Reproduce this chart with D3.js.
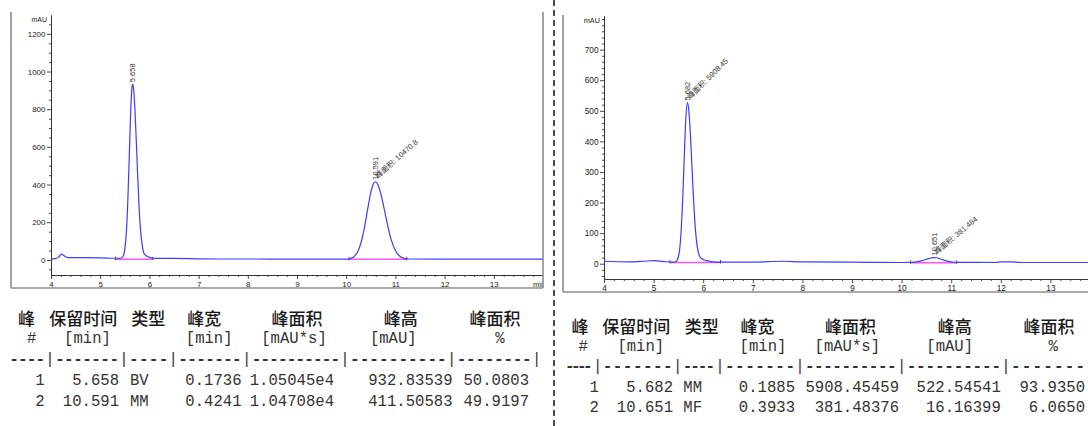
<!DOCTYPE html>
<html><head><meta charset="utf-8">
<script src="https://cdn.jsdelivr.net/npm/d3@7"></script>
<style>body{margin:0;background:#fff;}svg{display:block;}</style>
</head><body><svg id="c" width="1088" height="426"></svg>
<script>
// ---------------- DATA ----------------
const xTickLabels = [4,5,6,7,8,9,10,11,12,13];
const leftYTicks = [0,200,400,600,800,1000,1200];
const rightYTicks = [0,100,200,300,400,500,600,700];

// chromatogram 1 (time min, mAU)
const leftTrace = [[4.0,6],[4.1,7],[4.16,16],[4.21,31],[4.26,24],[4.32,14],[4.4,12],[4.6,12],[5.0,11],[5.3,9],[5.42,9],[5.46,17],[5.50,56],[5.53,141],[5.56,304],[5.59,543],[5.62,788],[5.64,898],[5.658,933],[5.68,902],[5.70,827],[5.73,654],[5.76,458],[5.79,285],[5.82,158],[5.86,68],[5.90,30],[5.95,20],[6.00,14],[6.07,9],[6.15,8],[6.5,8],[7.0,6],[7.5,5],[8.0,5],[9.0,4],[10.0,4],[10.06,4],[10.1,9],[10.15,16],[10.2,29],[10.25,52],[10.3,91],[10.35,145],[10.4,214],[10.45,289],[10.5,357],[10.55,403],[10.591,415],[10.65,396],[10.7,355],[10.75,299],[10.8,235],[10.85,174],[10.9,121],[10.95,80],[11.0,50],[11.05,30],[11.1,18],[11.15,11],[11.2,7],[11.3,5],[12.0,4],[13.0,4],[14.0,4]];
// chromatogram 2
const rightTrace = [[4.0,8],[4.5,6],[4.8,8],[5.0,10],[5.2,7],[5.4,5],[5.45,7],[5.50,23],[5.53,54],[5.56,119],[5.59,225],[5.62,358],[5.65,475],[5.682,527],[5.71,502],[5.74,429],[5.77,329],[5.80,226],[5.83,140],[5.86,82],[5.90,38],[5.95,19],[6.00,14],[6.07,10],[6.15,7],[6.35,5],[7.0,5],[7.6,8],[8.0,6],[9.0,5],[10.0,4],[10.2,4.5],[10.3,5.8],[10.4,9.2],[10.5,14.6],[10.6,19.2],[10.651,20.2],[10.7,19.4],[10.8,14.7],[10.9,9.3],[11.0,5.8],[11.1,4.6],[11.2,4.2],[11.9,4],[12.0,6],[12.2,6],[12.4,4],[13.0,4],[14.0,4]];

// integration baselines [tStart, vStart, tEnd, vEnd]
const leftBaselines = [[5.31,4,6.07,4],[10.06,3,11.23,3]];
const rightBaselines = [[5.33,4,6.35,4],[10.18,3,11.11,3]];

// peak annotations
const leftPeakTimes = [5.658, 10.591];
const leftPeakApex = [933, 415];
const leftPeakAreaLabels = ["", "峰面积: 10470.8"];
const rightPeakTimes = [5.682, 10.651];
const rightPeakApex = [527, 20.2];
const rightPeakAreaLabels = ["峰面积: 5908.45", "峰面积: 381.484"];

// tables
const tableHead1 = ["峰","保留时间","类型","峰宽","峰面积","峰高","峰面积"];
const tableHead2 = ["#","[min]","","[min]","[mAU*s]","[mAU]","%"];
const leftRows = [
  ["1","5.658","BV","0.1736","1.05045e4","932.83539","50.0803"],
  ["2","10.591","MM","0.4241","1.04708e4","411.50583","49.9197"]
];
const rightRows = [
  ["1","5.682","MM","0.1885","5908.45459","522.54541","93.9350"],
  ["2","10.651","MF","0.3933","381.48376","16.16399","6.0650"]
];
const dashCounts = [4,7,4,7,10,10,8];

// ---------------- DRAW ----------------
const svg = d3.select("#c");
svg.append("rect").attr("width",1088).attr("height",426).attr("fill","#fff");
const defs = svg.append("defs");
const W = 1088;

function drawChart(cfg){
  const x = d3.scaleLinear().domain([4,14]).range(cfg.xRange);
  const y = d3.scaleLinear().domain(cfg.yDomain).range(cfg.yRange);
  defs.append("clipPath").attr("id",cfg.id).append("rect")
    .attr("x",cfg.clip[0]).attr("y",cfg.clip[1]).attr("width",cfg.clip[2]).attr("height",cfg.clip[3]);
  const g = svg.append("g").attr("clip-path",`url(#${cfg.id})`);
  cfg.frame.forEach(f=>{
    svg.append("line").attr("x1",f[0]).attr("y1",f[1]).attr("x2",f[2]).attr("y2",f[3])
      .attr("stroke","#8c8c8c").attr("stroke-width",1.6);
  });
  const x0 = cfg.xRange[0], yb = cfg.yRange[0];
  const styleAxis = sel=>{
    sel.selectAll("path,line").attr("stroke","#333").attr("stroke-width",0.9);
    sel.selectAll("text").attr("fill","#222").style("font-family","Liberation Sans, Arial, sans-serif").style("font-size",cfg.fs+"px");
  };
  const yMinor = d3.range(-cfg.yMinorStep*Math.floor(-cfg.yDomain[0]/cfg.yMinorStep), cfg.yDomain[1], cfg.yMinorStep)
    .filter(v=>!cfg.yTicks.includes(v));
  g.append("g").attr("transform",`translate(${x0},0)`)
    .call(d3.axisLeft(y).tickValues(yMinor).tickSize(2).tickSizeOuter(0).tickFormat(""))
    .call(styleAxis);
  g.append("g").attr("transform",`translate(${x0},0)`)
    .call(d3.axisLeft(y).tickValues(cfg.yTicks).tickSize(4).tickSizeOuter(0).tickPadding(1.5).tickFormat(d3.format("d")))
    .call(styleAxis);
  const xMinor = d3.range(40,141,2).map(v=>v/10).filter(v=>!Number.isInteger(v) && x(v)<=W);
  g.append("g").attr("transform",`translate(0,${yb})`)
    .call(d3.axisBottom(x).tickValues(xMinor).tickSize(2).tickSizeOuter(0).tickFormat(""))
    .call(styleAxis);
  const xMajor = xTickLabels.concat([14]).filter(v=>x(v)<=W);
  g.append("g").attr("transform",`translate(0,${yb})`)
    .call(d3.axisBottom(x).tickValues(xMajor).tickSize(4).tickSizeOuter(0).tickPadding(2)
      .tickFormat(d=>d===14?"":d))
    .call(styleAxis);
  if(x(14)-10 < W-12){
    g.append("text").attr("x",x(14)-10).attr("y",yb+12).text("min")
      .attr("fill","#222").style("font-family","Liberation Sans, Arial, sans-serif").style("font-size",(cfg.fs-0.5)+"px");
  }
  g.append("text").attr("x",x0-4).attr("y",y(cfg.yDomain[1])+7).attr("text-anchor","end").text("mAU")
    .attr("fill","#222").style("font-family","Liberation Sans, Arial, sans-serif").style("font-size",(cfg.fs-1)+"px");
  cfg.baselines.forEach(b=>{
    g.append("line").attr("x1",x(b[0])).attr("y1",y(b[1])).attr("x2",x(b[2])).attr("y2",y(b[3]))
      .attr("stroke","#ff55ff").attr("stroke-width",1.5);
    [[b[0],b[1]],[b[2],b[3]]].forEach(p=>{
      g.append("line").attr("x1",x(p[0])).attr("x2",x(p[0])).attr("y1",y(p[1])-2.5).attr("y2",y(p[1])+1)
        .attr("stroke","#222").attr("stroke-width",0.8);
    });
  });
  const line = d3.line().x(d=>x(d[0])).y(d=>y(d[1])).curve(d3.curveMonotoneX);
  g.append("path").datum(cfg.trace).attr("d",line).attr("fill","none")
    .attr("stroke","#3c3cff").attr("stroke-width",1.2);
  cfg.peakTimes.forEach((t,i)=>{
    const px = x(t), py = y(cfg.peakApex[i]);
    g.append("text").attr("transform",`translate(${px+2.7},${py-2}) rotate(-90)`)
      .text(t.toFixed(3)).attr("fill","#333")
      .style("font-family","Liberation Sans, Arial, sans-serif").style("font-size","7.5px");
    if(cfg.areaLabels[i]){
      g.append("text").attr("transform",`translate(${px+3},${py-3}) rotate(${cfg.angles[i]})`)
        .text(cfg.areaLabels[i]).attr("fill","#333")
        .style("font-family","Liberation Sans, 'Noto Sans CJK SC', sans-serif").style("font-size","7.5px");
    }
  });
}

drawChart({id:"cl", xRange:[51,543], yDomain:[-80,1300], yRange:[275,15], yTicks:leftYTicks, yMinorStep:50,
  clip:[0,0,543,295], frame:[[11,12,11,288],[11,288,543,288],[543,12,543,288]], fs:8,
  trace:leftTrace, baselines:leftBaselines, peakTimes:leftPeakTimes, peakApex:leftPeakApex,
  areaLabels:leftPeakAreaLabels, angles:[-42,-42]});
drawChart({id:"cr", xRange:[604,1100], yDomain:[-50,810], yRange:[279,16], yTicks:rightYTicks, yMinorStep:20,
  clip:[563,0,525,295], frame:[[563,15,563,292],[563,292,1088,292]], fs:8.3,
  trace:rightTrace, baselines:rightBaselines, peakTimes:rightPeakTimes, peakApex:rightPeakApex,
  areaLabels:rightPeakAreaLabels, angles:[-45,-40]});

svg.append("line").attr("x1",554).attr("x2",554).attr("y1",0).attr("y2",426)
  .attr("stroke","#111").attr("stroke-width",1.5).attr("stroke-dasharray","6,4");

const mono = "Liberation Mono, Courier New, monospace";
const cjk = "'Noto Sans CJK SC', sans-serif";
function drawTable(t){
  const g = svg.append("g");
  tableHead1.forEach((s,i)=>{
    g.append("text").attr("x",t.h1x[i]).attr("y",t.y[0]).attr("text-anchor","middle").attr("dominant-baseline","central")
      .text(s).attr("fill","#1a1a1a").style("font-family",cjk).style("font-size","17px").style("font-weight","500");
  });
  tableHead2.forEach((s,i)=>{
    if(!s) return;
    g.append("text").attr("x",t.h2x[i]).attr("y",t.y[1]).attr("text-anchor","middle").attr("dominant-baseline","central")
      .text(s).attr("fill","#333").style("font-family",mono).style("font-size","15.6px");
  });
  const stops = [t.dashStart].concat(t.pipes);
  dashCounts.forEach((n,i)=>{
    if(i>=stops.length) return;
    const a = stops[i] + (i===0?0:5);
    const b = (i+1<stops.length? stops[i+1]-5 : W-3);
    const cnt = (i+1<stops.length)? n : Math.max(1, Math.floor((b-a)/9.6));
    g.append("text").attr("x",a).attr("y",t.y[2]).attr("dominant-baseline","central")
      .attr("textLength",b-a).attr("lengthAdjust","spacing")
      .text("-".repeat(cnt)).attr("fill","#333").style("font-family",mono).style("font-size","16px").style("font-weight","bold");
  });
  t.pipes.forEach(p=>{
    g.append("text").attr("x",p).attr("y",t.y[2]).attr("text-anchor","middle").attr("dominant-baseline","central")
      .text("|").attr("fill","#333").style("font-family",mono).style("font-size","15.6px");
  });
  t.rows.forEach((r,ri)=>{
    r.forEach((s,ci)=>{
      const c = t.cols[ci];
      g.append("text").attr("x",c[0]).attr("y",t.y[3+ri]).attr("text-anchor",c[1]).attr("dominant-baseline","central")
        .text(s).attr("fill","#333").style("font-family",mono).style("font-size","15.6px");
    });
  });
}
drawTable({rows:leftRows, y:[317,339.3,360,380.7,401.7],
  h1x:[26.5,83.3,148.3,204.2,297,400.8,495],
  h2x:[31.7,87.5,0,209.2,294,393.3,500],
  dashStart:9.3, pipes:[50,124,173.3,246.7,345,451.7,536.7],
  cols:[[40,"middle"],[119,"end"],[130,"start"],[241.5,"end"],[334,"end"],[452.5,"end"],[529,"end"]]});
drawTable({rows:rightRows, y:[325,347.3,367.3,388.3,408.3],
  h1x:[580,636.2,701.7,757.5,850.5,954.7,1048.9],
  h2x:[583.3,640.8,0,763,847.3,949.7,1053.3],
  dashStart:565, pipes:[597.7,677.7,720,800,901.7,1006],
  cols:[[594.3,"middle"],[673,"end"],[683.3,"start"],[795,"end"],[899,"end"],[1000.8,"end"],[1085,"end"]]});
</script></body></html>
